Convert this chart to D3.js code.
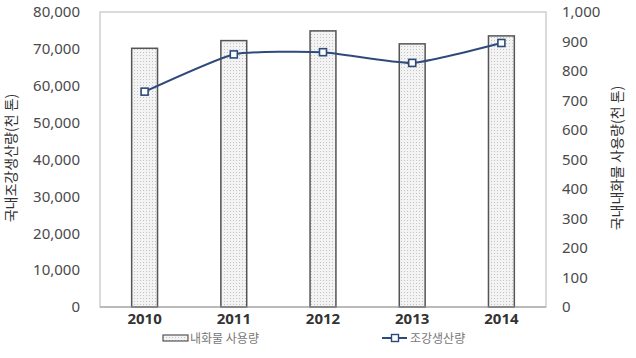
<!DOCTYPE html>
<html>
<head>
<meta charset="utf-8">
<script src="https://cdn.jsdelivr.net/npm/d3@7"></script>
<style>
  body { margin: 0; background: #fff; }
  .tick text { font-family: "Noto Sans", "DejaVu Sans", sans-serif; }
</style>
</head>
<body>
<div id="chart"></div>
<script>
// Data
const years = ["2010", "2011", "2012", "2013", "2014"];
const refractoryUse = [877, 903, 936, 892, 919];          // bars, right axis (천 톤)
const steelOutput = [58400, 68500, 69100, 66200, 71600];  // line, left axis (천 톤)
const leftTicks = [0, 10000, 20000, 30000, 40000, 50000, 60000, 70000, 80000];
const rightTicks = [0, 100, 200, 300, 400, 500, 600, 700, 800, 900, 1000];

// dimensions
const W = 636, H = 358;
const margin = { top: 12, right: 90, bottom: 51, left: 100 };
const width = W - margin.left - margin.right;
const height = H - margin.top - margin.bottom;

const svg = d3.select("#chart").append("svg")
    .attr("width", W)
    .attr("height", H);

// dot pattern for the bars
const defs = svg.append("defs");
const pat = defs.append("pattern")
    .attr("id", "dots")
    .attr("width", 3)
    .attr("height", 3)
    .attr("patternUnits", "userSpaceOnUse");
pat.append("rect").attr("width", 3).attr("height", 3).attr("fill", "#f3f3f3");
pat.append("rect").attr("x", 1).attr("y", 1).attr("width", 1).attr("height", 1).attr("fill", "#c4c4c4");

const chart = svg.append("g")
    .attr("transform", "translate(" + margin.left + "," + margin.top + ")");

// scales
const x = d3.scaleBand().domain(years).range([0, width]).paddingInner(0.71).paddingOuter(0.355);
const yLeft = d3.scaleLinear().domain([0, 80000]).range([height, 0]);
const yRight = d3.scaleLinear().domain([0, 1000]).range([height, 0]);

// frame
chart.append("rect")
    .attr("width", width)
    .attr("height", height)
    .attr("fill", "none")
    .attr("stroke", "#c4c4c4")
    .attr("stroke-width", 1.2);

// bars
chart.selectAll(".bar")
    .data(years)
    .enter()
    .append("rect")
    .attr("class", "bar")
    .attr("x", d => x(d))
    .attr("width", x.bandwidth())
    .attr("y", (d, i) => yRight(refractoryUse[i]))
    .attr("height", (d, i) => height - yRight(refractoryUse[i]))
    .attr("fill", "url(#dots)")
    .attr("stroke", "#555")
    .attr("stroke-width", 1.5);

// bottom axis line
chart.append("line")
    .attr("x1", 0).attr("x2", width)
    .attr("y1", height).attr("y2", height)
    .attr("stroke", "#999")
    .attr("stroke-width", 1.2);

// line (slightly smoothed)
const lineColor = "#2e4a7d";
const pts = years.map((d, i) => [x(d) + x.bandwidth() / 2, yLeft(steelOutput[i])]);
chart.append("path")
    .datum(pts)
    .attr("fill", "none")
    .attr("stroke", lineColor)
    .attr("stroke-width", 2)
    .attr("d", d3.line().curve(d3.curveCardinal.tension(0.5)));

chart.selectAll(".marker")
    .data(pts)
    .enter()
    .append("rect")
    .attr("class", "marker")
    .attr("x", d => d[0] - 3.5)
    .attr("y", d => d[1] - 3.5)
    .attr("width", 7)
    .attr("height", 7)
    .attr("fill", "#fff")
    .attr("stroke", lineColor)
    .attr("stroke-width", 1.6);

// axes
const fmt = d3.format(",");
const leftAxis = chart.append("g")
    .call(d3.axisLeft(yLeft).tickValues(leftTicks).tickFormat(fmt).tickSize(0).tickPadding(20));
leftAxis.select(".domain").remove();
leftAxis.selectAll("text").attr("font-size", 15).attr("fill", "#4a4a4a");

const rightAxis = chart.append("g")
    .attr("transform", "translate(" + width + ",0)")
    .call(d3.axisRight(yRight).tickValues(rightTicks).tickFormat(fmt).tickSize(0).tickPadding(16));
rightAxis.select(".domain").remove();
rightAxis.selectAll("text").attr("font-size", 15).attr("fill", "#4a4a4a");

const xAxis = chart.append("g")
    .attr("transform", "translate(0," + height + ")")
    .call(d3.axisBottom(x).tickSize(0).tickPadding(6));
xAxis.select(".domain").remove();
xAxis.selectAll("text")
    .attr("font-size", 15)
    .attr("font-weight", "bold")
    .attr("fill", "#333")
    .attr("font-family", "'Liberation Sans Narrow', 'DejaVu Sans Condensed', sans-serif");

// axis titles
const kFont = "'Noto Sans CJK KR', sans-serif";
svg.append("text")
    .attr("transform", "translate(16," + (margin.top + 146) + ") rotate(-90)")
    .attr("text-anchor", "middle")
    .attr("font-family", kFont)
    .attr("font-size", 14)
    .attr("fill", "#333")
    .text("국내조강생산량(천 톤)");

svg.append("text")
    .attr("transform", "translate(622," + (margin.top + 146) + ") rotate(-90)")
    .attr("text-anchor", "middle")
    .attr("font-family", kFont)
    .attr("font-size", 14)
    .attr("fill", "#333")
    .text("국내내화물 사용량(천 톤)");

// legend
const legend = svg.append("g").attr("font-family", kFont).attr("font-size", 12).attr("fill", "#777");
legend.append("rect")
    .attr("x", 163).attr("y", 335).attr("width", 25).attr("height", 6)
    .attr("fill", "url(#dots)").attr("stroke", "#555").attr("stroke-width", 1.2);
legend.append("text").attr("x", 190).attr("y", 343).text("내화물 사용량");

legend.append("line")
    .attr("x1", 382).attr("x2", 407).attr("y1", 338).attr("y2", 338)
    .attr("stroke", lineColor).attr("stroke-width", 2);
legend.append("rect")
    .attr("x", 391.5).attr("y", 334.5).attr("width", 7).attr("height", 7)
    .attr("fill", "#fff").attr("stroke", lineColor).attr("stroke-width", 1.4);
legend.append("text").attr("x", 410).attr("y", 343).text("조강생산량");
</script>
</body>
</html>
